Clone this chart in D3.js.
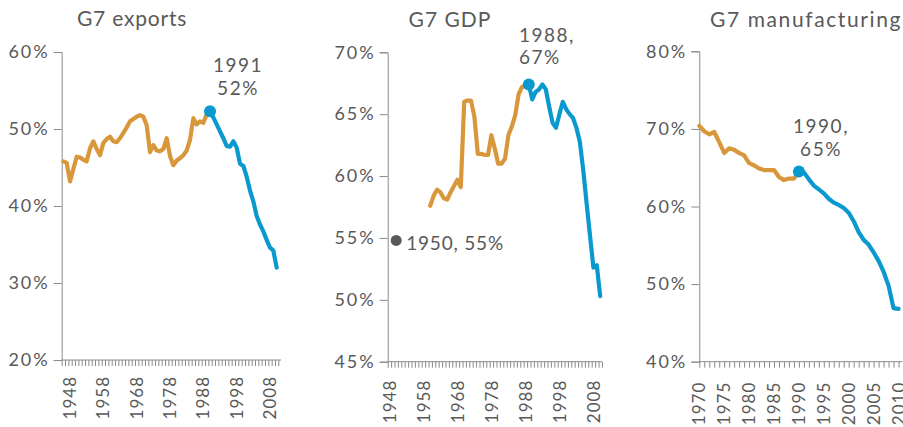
<!DOCTYPE html>
<html>
<head>
<meta charset="utf-8">
<script src="https://cdn.jsdelivr.net/npm/d3@7"></script>
<style>
  html, body { margin: 0; padding: 0; background: #fff; }
  svg { display: block; }
  text { font-family: Lato, "Open Sans", sans-serif; fill: #595959; }
</style>
</head>
<body>
<svg id="chart" width="903" height="427"></svg>
<script>
// ---------------- DATA ----------------
const panelTitles = ["G7 exports", "G7 GDP", "G7 manufacturing"];

// G7 share of world exports (%), 1946..2010
const exportsStartYear = 1946;
const exportsShare = [
  45.8, 45.6, 43.2, 44.8, 46.4, 46.3, 46.0, 45.8, 47.5, 48.4,
  47.4, 46.6, 48.2, 48.7, 49.0, 48.4, 48.3, 48.8, 49.5, 50.2,
  51.0, 51.3, 51.6, 51.8, 51.6, 50.5, 47.0, 47.9, 47.2, 47.1,
  47.4, 48.8, 46.5, 45.3, 45.9, 46.2, 46.6, 47.2, 48.6, 51.4,
  50.6, 51.0, 50.8, 51.9, 52.3, 51.5, 50.6, 49.7, 48.8, 47.8,
  47.7, 48.4, 47.6, 45.5, 45.2, 43.8, 42.0, 40.6, 38.7, 37.6,
  36.7, 35.6, 34.6, 34.2, 32.0
];
const exportsPeakYear = 1990;

// G7 share of world GDP (%), 1960..2010
const gdpStartYear = 1960;
const gdpShare = [
  57.6, 58.4, 58.9, 58.7, 58.2, 58.1, 58.7, 59.2, 59.7, 59.1,
  66.0, 66.1, 66.1, 64.8, 61.8, 61.8, 61.7, 61.7, 63.3, 62.2,
  61.0, 61.0, 61.4, 63.3, 64.0, 64.9, 66.6, 67.2, 67.3, 67.4,
  66.2, 66.8, 67.0, 67.4, 67.0, 65.6, 64.3, 63.9, 65.0, 66.0,
  65.4, 65.0, 64.7, 63.9, 62.8, 60.5, 57.8, 55.2, 52.6, 52.8,
  50.3
];
const gdpPeakYear = 1989;
const gdpEarlyPoint = { year: 1950, value: 54.8 };

// G7 share of world manufacturing (%), 1970..2010
const mfgStartYear = 1970;
const mfgShare = [
  70.4, 69.7, 69.3, 69.6, 68.3, 66.9, 67.5, 67.3, 66.9, 66.6,
  65.6, 65.3, 64.9, 64.7, 64.7, 64.7, 63.8, 63.4, 63.6, 63.6,
  64.5, 64.4, 63.5, 62.7, 62.2, 61.7, 61.0, 60.5, 60.2, 59.8,
  59.2, 58.1, 56.7, 55.7, 55.1, 54.1, 53.0, 51.6, 49.8, 46.9,
  46.8
];
const mfgPeakYear = 1990;

// tick labels
const exportsXLabels = [1948, 1958, 1968, 1978, 1988, 1998, 2008];
const gdpXLabels = [1948, 1958, 1968, 1978, 1988, 1998, 2008];
const mfgXLabels = [1970, 1975, 1980, 1985, 1990, 1995, 2000, 2005, 2010];
const exportsYTicks = [20, 30, 40, 50, 60];
const gdpYTicks = [45, 50, 55, 60, 65, 70];
const mfgYTicks = [40, 50, 60, 70, 80];

// annotation texts
const exportsNote = ["1991", "52%"];
const gdpNote = ["1988,", "67%"];
const gdpEarlyNote = "1950, 55%";
const mfgNote = ["1990,", "65%"];

// ---------------- STYLE ----------------
const ORANGE = "#D9973B";
const BLUE = "#0A99CF";
const DARK = "#595959";
const AXIS = "#8a8a8a";

const svg = d3.select("#chart");

function toSeries(start, vals) {
  return vals.map((v, i) => ({ year: start + i, value: v }));
}

function drawPanel(cfg) {
  const g = svg.append("g");
  const x = d3.scaleLinear().domain(cfg.xDomain).range(cfg.xRange);
  const y = d3.scaleLinear().domain(cfg.yDomain).range(cfg.yRange);

  // title
  g.append("text").attr("x", cfg.titleX).attr("y", cfg.titleY)
    .attr("text-anchor", "middle").style("font-size", "21px")
    .style("letter-spacing", cfg.titleSpacing + "px").text(cfg.title);

  // y axis
  const yAxis = d3.axisLeft(y).tickValues(cfg.yTicks).tickSize(8).tickPadding(4)
    .tickFormat(d => d + "%");
  const ya = g.append("g").attr("transform", `translate(${cfg.xRange[0]},0)`).call(yAxis);
  ya.select(".domain").attr("stroke", AXIS);
  ya.selectAll(".tick line").attr("stroke", AXIS);
  ya.selectAll(".tick text").style("font-size", "18px").attr("fill", DARK)
    .style("letter-spacing", "2px")
    .style("font-family", "Lato, sans-serif");

  // x axis: minor ticks each year, labels rotated
  const tickYears = d3.range(cfg.tickStart, cfg.xDomain[1] + 0.01, 1);
  const xAxis = d3.axisBottom(x).tickValues(tickYears).tickSize(6).tickFormat("");
  const xa = g.append("g").attr("transform", `translate(0,${cfg.yRange[0]})`).call(xAxis);
  xa.select(".domain").attr("stroke", AXIS).attr("d", `M${cfg.xRange[0]},0H${cfg.xRange[1]}`);
  xa.selectAll(".tick line").attr("stroke", AXIS);

  g.selectAll("text.xl").data(cfg.xLabels).enter().append("text")
    .attr("class", "xl")
    .attr("transform", d => `translate(${x(d)},${cfg.yRange[0] + cfg.labelGap}) rotate(-90)`)
    .attr("text-anchor", "end").attr("dy", "0.36em")
    .style("font-size", "17px").style("letter-spacing", "1px").text(d => d);

  const line = d3.line().x(d => x(d.year)).y(d => y(d.value));
  const series = toSeries(cfg.start, cfg.values);
  const before = series.filter(d => d.year <= cfg.peakYear);
  const after = series.filter(d => d.year >= cfg.peakYear);

  g.append("path").datum(before).attr("d", line).attr("fill", "none")
    .attr("stroke", ORANGE).attr("stroke-width", 4.2)
    .attr("stroke-linejoin", "round").attr("stroke-linecap", "round");
  g.append("path").datum(after).attr("d", line).attr("fill", "none")
    .attr("stroke", BLUE).attr("stroke-width", 4.2)
    .attr("stroke-linejoin", "round").attr("stroke-linecap", "round");

  const peak = series.find(d => d.year === cfg.peakYear);
  g.append("circle").attr("cx", x(peak.year)).attr("cy", y(peak.value))
    .attr("r", 6).attr("fill", BLUE);

  cfg.note.forEach((t, i) => {
    g.append("text").attr("x", cfg.noteX).attr("y", cfg.noteY[i])
      .attr("text-anchor", cfg.noteAnchor).style("font-size", "19px")
      .style("letter-spacing", "1.5px").text(t);
  });
  return { g, x, y };
}

drawPanel({
  title: panelTitles[0], titleX: 132, titleY: 26, titleSpacing: 0.8,
  xDomain: [1945.5, 2011.3], xRange: [61.7, 281], tickStart: 1945.5,
  yDomain: [20, 60], yRange: [360, 52], yTicks: exportsYTicks,
  xLabels: exportsXLabels, labelGap: 16,
  start: exportsStartYear, values: exportsShare, peakYear: exportsPeakYear,
  note: exportsNote, noteX: 238, noteY: [72, 95], noteAnchor: "middle"
});

const p2 = drawPanel({
  title: panelTitles[1], titleX: 450, titleY: 27, titleSpacing: 1,
  xDomain: [1947.5, 2010.5], xRange: [387.7, 601.9], tickStart: 1947.5,
  yDomain: [45, 70], yRange: [361.7, 52.3], yTicks: gdpYTicks,
  xLabels: gdpXLabels, labelGap: 18,
  start: gdpStartYear, values: gdpShare, peakYear: gdpPeakYear,
  note: gdpNote, noteX: 519, noteY: [42, 64], noteAnchor: "start"
});
p2.g.append("circle").attr("cx", p2.x(gdpEarlyPoint.year)).attr("cy", p2.y(gdpEarlyPoint.value))
  .attr("r", 5.5).attr("fill", DARK);
p2.g.append("text").attr("x", p2.x(gdpEarlyPoint.year) + 10).attr("y", 250)
  .style("font-size", "19px").style("letter-spacing", "0.8px").text(gdpEarlyNote);

drawPanel({
  title: panelTitles[2], titleX: 806, titleY: 27, titleSpacing: 1.6,
  xDomain: [1970, 2010.8], xRange: [699.3, 902.5], tickStart: 1970,
  yDomain: [40, 80], yRange: [361.7, 51.3], yTicks: mfgYTicks,
  xLabels: mfgXLabels, labelGap: 20,
  start: mfgStartYear, values: mfgShare, peakYear: mfgPeakYear,
  note: mfgNote, noteX: 821, noteY: [133, 156], noteAnchor: "middle"
});
</script>
</body>
</html>
